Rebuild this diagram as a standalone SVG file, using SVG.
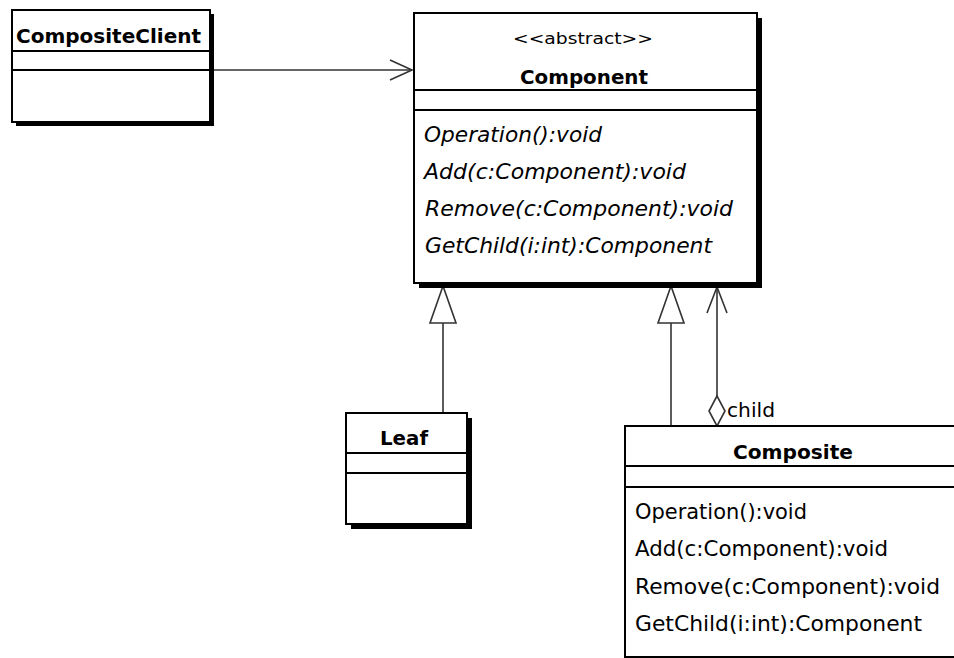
<svg xmlns="http://www.w3.org/2000/svg" width="954" height="658" viewBox="0 0 954 658">
<style>
.box{fill:#fff;stroke:#000;stroke-width:2}
.shadow{fill:#000}
.sep{stroke:#000;stroke-width:2}
.title{font-family:"DejaVu Sans","Liberation Sans",sans-serif;font-weight:bold;font-size:20px;fill:#000}
.stereo{font-family:"DejaVu Sans","Liberation Sans",sans-serif;font-size:16px;fill:#000}
.op{font-family:"DejaVu Sans","Liberation Sans",sans-serif;font-size:21px;fill:#000}
.abs{font-style:italic}
.lbl{font-family:"DejaVu Sans","Liberation Sans",sans-serif;font-size:20px;fill:#000}
.edge{fill:none;stroke:#333;stroke-width:1.6}
.head{fill:#fff;stroke:#333;stroke-width:1.6}
</style>
<rect width="954" height="658" fill="#fff"/>

<g id="connectors">
  <g id="client-to-component">
    <line class="edge" x1="211" y1="70" x2="412" y2="70"/>
    <polyline class="edge" points="390,60 412,70 390,80"/>
  </g>
  <g id="leaf-generalization">
    <line class="edge" x1="443" y1="413" x2="443" y2="323"/>
    <polygon class="head" points="443,286 430,323 456,323"/>
  </g>
  <g id="composite-generalization">
    <line class="edge" x1="671" y1="426" x2="671" y2="323"/>
    <polygon class="head" points="671,286 658,323 684,323"/>
  </g>
  <g id="child-aggregation">
    <line class="edge" x1="717" y1="396" x2="717" y2="287"/>
    <polyline class="edge" points="707,313 717,287 727,313"/>
    <polygon class="head" points="717,396 709,411 717,426 725,411"/>
    <text class="lbl" x="727" y="417" textLength="48" lengthAdjust="spacingAndGlyphs">child</text>
  </g>
</g>

<g id="CompositeClient">
  <rect class="shadow" x="16" y="14" width="198" height="112"/>
  <rect class="box" x="12" y="10" width="198" height="112"/>
  <line class="sep" x1="12" y1="51" x2="210" y2="51"/>
  <line class="sep" x1="12" y1="70" x2="210" y2="70"/>
  <text class="title" x="16" y="43" textLength="185" lengthAdjust="spacingAndGlyphs">CompositeClient</text>
</g>

<g id="Component">
  <rect class="shadow" x="419" y="18" width="343" height="270"/>
  <rect class="box" x="414" y="13" width="343" height="270"/>
  <line class="sep" x1="414" y1="90" x2="757" y2="90"/>
  <line class="sep" x1="414" y1="110" x2="757" y2="110"/>
  <text class="stereo" x="513" y="44" textLength="140" lengthAdjust="spacingAndGlyphs">&lt;&lt;abstract&gt;&gt;</text>
  <text class="title" x="520" y="84" textLength="128" lengthAdjust="spacingAndGlyphs">Component</text>
  <text class="op abs" x="424" y="142" textLength="178" lengthAdjust="spacingAndGlyphs">Operation():void</text>
  <text class="op abs" x="424" y="179" textLength="262" lengthAdjust="spacingAndGlyphs">Add(c:Component):void</text>
  <text class="op abs" x="425" y="216" textLength="308" lengthAdjust="spacingAndGlyphs">Remove(c:Component):void</text>
  <text class="op abs" x="425" y="253" textLength="287" lengthAdjust="spacingAndGlyphs">GetChild(i:int):Component</text>
</g>

<g id="Leaf">
  <rect class="shadow" x="351" y="418" width="121" height="111"/>
  <rect class="box" x="346" y="413" width="121" height="111"/>
  <line class="sep" x1="346" y1="453" x2="467" y2="453"/>
  <line class="sep" x1="346" y1="473" x2="467" y2="473"/>
  <text class="title" x="380" y="445" textLength="48" lengthAdjust="spacingAndGlyphs">Leaf</text>
</g>

<g id="Composite">
  <rect class="box" x="625" y="426" width="360" height="231"/>
  <line class="sep" x1="625" y1="466" x2="954" y2="466"/>
  <line class="sep" x1="625" y1="487" x2="954" y2="487"/>
  <text class="title" x="733" y="459" textLength="120" lengthAdjust="spacingAndGlyphs">Composite</text>
  <text class="op" x="635" y="519" textLength="172" lengthAdjust="spacingAndGlyphs">Operation():void</text>
  <text class="op" x="635" y="556" textLength="253" lengthAdjust="spacingAndGlyphs">Add(c:Component):void</text>
  <text class="op" x="635" y="594" textLength="305" lengthAdjust="spacingAndGlyphs">Remove(c:Component):void</text>
  <text class="op" x="635" y="631" textLength="287" lengthAdjust="spacingAndGlyphs">GetChild(i:int):Component</text>
</g>
</svg>
